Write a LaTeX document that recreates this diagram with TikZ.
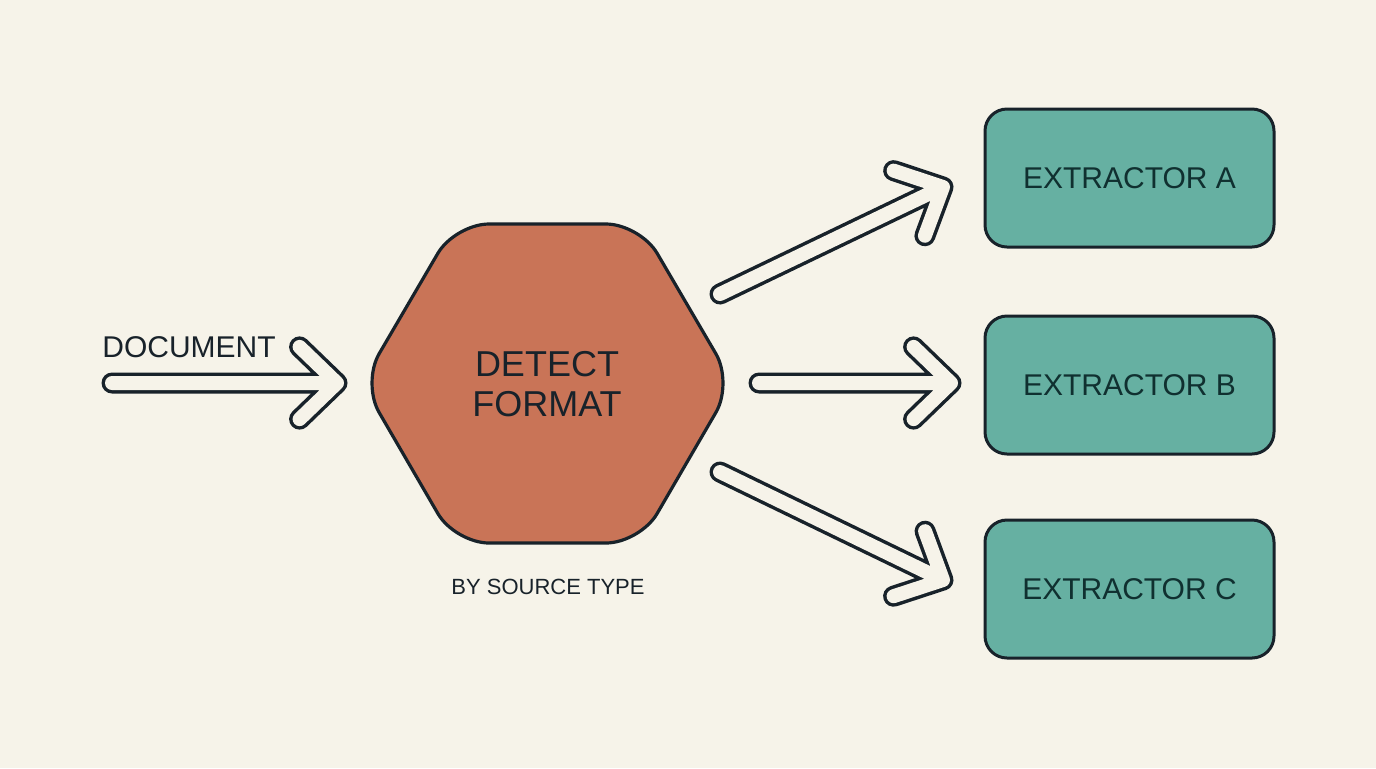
\documentclass[tikz,border=0pt]{standalone}
\usepackage{fontspec}
\setmainfont{Liberation Sans}
\usetikzlibrary{calc}
\definecolor{bgcream}{HTML}{F6F3E9}
\definecolor{inkdark}{HTML}{18222A}
\definecolor{hexclay}{HTML}{C97457}
\definecolor{extteal}{HTML}{66B0A2}
\definecolor{tealink}{HTML}{103030}

\begin{document}
\begin{tikzpicture}[
  x=0.5pt, y=-0.5pt,
  extbox/.style={rectangle, rounded corners=11pt, draw=inkdark, line width=1.5pt,
                 fill=extteal, minimum width=144.5pt, minimum height=69pt,
                 font=\fontsize{15}{18}\selectfont, text=tealink},
  arrout/.style={line width=10.5pt, draw=inkdark, line cap=round, line join=round},
  arrin/.style={line width=7pt, draw=bgcream, line cap=round, line join=round}
]

% background and page size
\fill[bgcream] (0,0) rectangle (1376,768);

% hexagon
\draw[fill=hexclay, draw=inkdark, line width=1.6pt, rounded corners=17pt]
  (547,224) -- (640,224) -- (733,383) -- (640,543) -- (455,543) -- (362,383) -- (455,224) -- cycle;
\node[align=center, font=\fontsize{18}{20}\selectfont, text=inkdark] (detect) at (547,384) {DETECT\\FORMAT};
\node[font=\fontsize{11}{13}\selectfont, text=inkdark] (bytype) at (548,587) {BY SOURCE TYPE};

% extractors
\node[extbox] (exa) at (1129.5,178) {EXTRACTOR A};
\node[extbox] (exb) at (1129.5,385) {EXTRACTOR B};
\node[extbox] (exc) at (1129.5,589) {EXTRACTOR C};

% input label
\node[font=\fontsize{15}{18}\selectfont, text=inkdark] (doc) at (189,347) {DOCUMENT};

% arrow ends
\coordinate (docs) at (112,383);  \coordinate (doct) at (337,383);
\coordinate (as)   at (720,294);  \coordinate (at)   at (943,187);
\coordinate (bs)   at (759,383);  \coordinate (bt)   at (951,383);
\coordinate (cs)   at (720,472);  \coordinate (ct)   at (943,580);

% hollow arrows
\foreach \a/\b in {docs/doct, as/at, bs/bt, cs/ct} {
  \draw[arrout] (\a) -- (\b) ($(\b)!26pt!44:(\a)$) -- (\b) -- ($(\b)!26pt!-44:(\a)$);
  \draw[arrin]  (\a) -- (\b) ($(\b)!26pt!44:(\a)$) -- (\b) -- ($(\b)!26pt!-44:(\a)$);
}

\end{tikzpicture}
\end{document}
